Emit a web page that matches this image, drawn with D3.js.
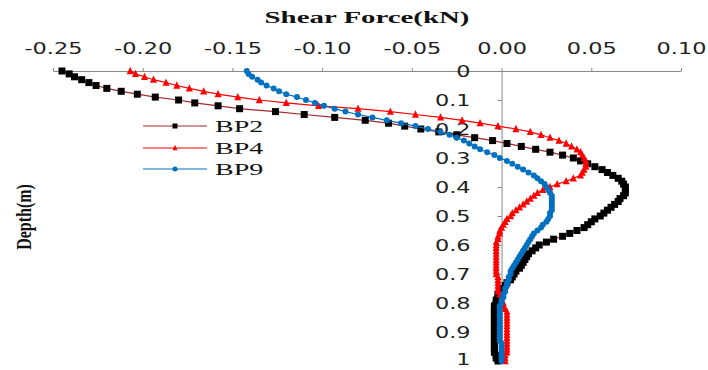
<!DOCTYPE html>
<html>
<head>
<meta charset="utf-8">
<script src="https://cdn.jsdelivr.net/npm/d3@7"></script>
<style>
  html, body { margin: 0; padding: 0; background: #fff; }
  svg { display: block; }
</style>
</head>
<body>
<svg id="chart" width="708" height="370"></svg>
<script>
// ---- DATA ----
const depth = [0,0.01,0.02,0.03,0.04,0.05,0.06,0.07,0.08,0.09,
  0.10,0.11,0.12,0.13,0.14,0.15,0.16,0.17,0.18,0.19,
  0.20,0.21,0.22,0.23,0.24,0.25,0.26,0.27,0.28,0.29,
  0.30,0.31,0.32,0.33,0.34,0.35,0.36,0.37,0.38,0.39,
  0.40,0.41,0.42,0.43,0.44,0.45,0.46,0.47,0.48,0.49,
  0.50,0.51,0.52,0.53,0.54,0.55,0.56,0.57,0.58,0.59,
  0.60,0.61,0.62,0.63,0.64,0.65,0.66,0.67,0.68,0.69,
  0.70,0.71,0.72,0.73,0.74,0.75,0.76,0.77,0.78,0.79,
  0.80,0.81,0.82,0.83,0.84,0.85,0.86,0.87,0.88,0.89,
  0.90,0.91,0.92,0.93,0.94,0.95,0.96,0.97,0.98,0.99,1.00];

const bp2 = [-0.245,-0.241,-0.238,-0.234,-0.230,-0.226,-0.220,-0.212,-0.203,-0.193,
  -0.180,-0.171,-0.158,-0.146,-0.126,-0.110,-0.093,-0.076,-0.063,-0.054,
  -0.045,-0.035,-0.025,-0.015,-0.005,0.003,0.011,0.019,0.027,0.034,
  0.040,0.044,0.048,0.052,0.056,0.059,0.062,0.065,0.067,0.068,
  0.069,0.069,0.069,0.068,0.066,0.065,0.063,0.061,0.059,0.057,
  0.055,0.052,0.050,0.048,0.046,0.042,0.038,0.034,0.029,0.025,
  0.021,0.019,0.017,0.015,0.014,0.013,0.012,0.011,0.010,0.008,
  0.007,0.006,0.005,0.003,0.002,0.001,-0.001,-0.002,-0.002,-0.003,
  -0.003,-0.004,-0.004,-0.004,-0.004,-0.004,-0.004,-0.004,-0.004,-0.004,
  -0.004,-0.004,-0.004,-0.004,-0.004,-0.004,-0.004,-0.004,-0.003,-0.003,-0.002];

const bp4 = [-0.207,-0.204,-0.199,-0.194,-0.187,-0.181,-0.174,-0.166,-0.158,-0.147,
  -0.135,-0.120,-0.102,-0.080,-0.062,-0.048,-0.034,-0.022,-0.012,-0.002,
  0.008,0.016,0.022,0.027,0.032,0.036,0.039,0.042,0.044,0.045,
  0.046,0.047,0.047,0.047,0.046,0.045,0.044,0.040,0.036,0.031,
  0.027,0.023,0.020,0.018,0.016,0.014,0.012,0.010,0.008,0.006,
  0.005,0.003,0.002,0.001,0.000,-0.001,-0.001,-0.002,-0.002,-0.003,
  -0.003,-0.003,-0.003,-0.003,-0.003,-0.003,-0.003,-0.003,-0.003,-0.003,
  -0.003,-0.002,-0.002,-0.002,-0.002,-0.002,-0.002,-0.001,0.000,0.000,
  0.001,0.001,0.002,0.003,0.003,0.003,0.003,0.003,0.003,0.003,
  0.003,0.003,0.003,0.003,0.003,0.003,0.003,0.003,0.002,0.002,0.002];

const bp9 = [-0.142,-0.141,-0.139,-0.136,-0.134,-0.131,-0.127,-0.124,-0.120,-0.114,
  -0.109,-0.104,-0.099,-0.093,-0.087,-0.080,-0.072,-0.064,-0.056,-0.048,
  -0.041,-0.034,-0.029,-0.025,-0.021,-0.018,-0.015,-0.012,-0.008,-0.004,
  -0.001,0.003,0.006,0.009,0.012,0.015,0.018,0.020,0.022,0.024,
  0.025,0.026,0.027,0.028,0.028,0.028,0.028,0.028,0.028,0.027,
  0.027,0.026,0.025,0.023,0.022,0.020,0.018,0.017,0.016,0.015,
  0.014,0.013,0.012,0.011,0.010,0.009,0.008,0.007,0.006,0.005,
  0.005,0.004,0.004,0.003,0.003,0.002,0.002,0.001,0.001,0.000,
  0.000,-0.001,-0.001,-0.001,-0.001,-0.001,-0.001,-0.001,-0.001,-0.001,
  -0.001,-0.001,-0.001,-0.001,0.000,0.000,0.000,0.000,0.000,0.000,0.000];

const seriesNames = ["BP2", "BP4", "BP9"];
const xTicks = [-0.25, -0.20, -0.15, -0.10, -0.05, 0.00, 0.05, 0.10];
const xTickLabels = ["-0.25", "-0.20", "-0.15", "-0.10", "-0.05", "0.00", "0.05", "0.10"];
const yTicks = [0, 0.1, 0.2, 0.3, 0.4, 0.5, 0.6, 0.7, 0.8, 0.9, 1];
const yTickLabels = ["0", "0.1", "0.2", "0.3", "0.4", "0.5", "0.6", "0.7", "0.8", "0.9", "1"];
const xTitle = "Shear Force(kN)";
const yTitle = "Depth(m)";

// ---- CHART ----
const svg = d3.select("#chart");
const x = d3.scaleLinear().domain([-0.25, 0.10]).range([53, 681]);
const y = d3.scaleLinear().domain([0, 1]).range([71, 361]);

const sansStretch = 1.4, serifStretch = 1.75;

// top axis
const gx = svg.append("g").attr("transform", `translate(0,${y(0)})`)
  .call(d3.axisTop(x).tickValues(xTicks).tickSize(3).tickSizeOuter(0)
    .tickFormat((d, i) => xTickLabels[i]));
gx.select(".domain").attr("stroke", "#888");
gx.selectAll(".tick line").attr("stroke", "#888");
gx.selectAll(".tick text")
  .attr("y", 0).attr("dy", 0)
  .attr("transform", `translate(0,-17) scale(${sansStretch},1)`)
  .attr("font-family", "DejaVu Sans, Verdana, sans-serif")
  .attr("font-size", 16).attr("fill", "#222");

// vertical axis at x = 0
const gy = svg.append("g").attr("transform", `translate(${x(0)},0)`)
  .call(d3.axisLeft(y).tickValues(yTicks).tickSize(4).tickSizeOuter(0)
    .tickFormat((d, i) => yTickLabels[i]));
gy.select(".domain").attr("stroke", "#888");
gy.selectAll(".tick line").attr("stroke", "#888");
gy.selectAll(".tick text")
  .attr("x", 0).attr("dy", "0.33em")
  .attr("text-anchor", "end")
  .attr("transform", (d, i) => `translate(-31,${i === yTicks.length - 1 ? -2 : 0}) scale(${sansStretch},1)`)
  .attr("font-family", "DejaVu Sans, Verdana, sans-serif")
  .attr("font-size", 16).attr("fill", "#222");

// titles
svg.append("text")
  .attr("transform", `translate(367,23) scale(${serifStretch},1)`)
  .attr("text-anchor", "middle")
  .attr("font-family", "Liberation Serif, Times New Roman, serif")
  .attr("font-weight", "bold").attr("font-size", 16.5).attr("fill", "#111")
  .text(xTitle);

svg.append("text")
  .attr("transform", `translate(31,217) scale(1.35,1) rotate(-90)`)
  .attr("text-anchor", "middle")
  .attr("font-family", "Liberation Serif, Times New Roman, serif")
  .attr("font-weight", "bold").attr("font-size", 16).attr("fill", "#111")
  .text(yTitle);

// series
const series = [
  { name: seriesNames[0], vals: bp2, line: "#a02a2a", mark: "#000", shape: "square", size: 7 },
  { name: seriesNames[1], vals: bp4, line: "#ff0000", mark: "#ff0000", shape: "triangle", size: 7 },
  { name: seriesNames[2], vals: bp9, line: "#0070c0", mark: "#0070c0", shape: "circle", size: 6 }
];

const lineGen = d3.line().x(d => x(d.v)).y(d => y(d.d));

function drawMarker(g, shape, color, size) {
  if (shape === "square") {
    g.append("rect").attr("x", -size / 2).attr("y", -size / 2)
      .attr("width", size).attr("height", size).attr("fill", color);
  } else if (shape === "triangle") {
    const h = size * 0.9;
    g.append("path").attr("d", `M0,${-h / 2 - 1}L${size / 2},${h / 2}L${-size / 2},${h / 2}Z`).attr("fill", color);
  } else {
    g.append("circle").attr("r", size / 2).attr("fill", color);
  }
}

series.forEach(s => {
  const pts = depth.map((d, i) => ({ d, v: s.vals[i] }));
  const g = svg.append("g");
  g.append("path").datum(pts).attr("d", lineGen)
    .attr("fill", "none").attr("stroke", s.line).attr("stroke-width", 1.2);
  g.selectAll("g.m").data(pts).join("g").attr("class", "m")
    .attr("transform", p => `translate(${x(p.v)},${y(p.d)})`)
    .each(function () { drawMarker(d3.select(this), s.shape, s.mark, s.size); });
});

// legend
const legendY = [126, 148, 169];
series.forEach((s, i) => {
  const g = svg.append("g").attr("transform", `translate(0,${legendY[i]})`);
  g.append("line").attr("x1", 143).attr("x2", 207).attr("y1", 0).attr("y2", 0)
    .attr("stroke", s.line).attr("stroke-width", 1.2);
  const mg = g.append("g").attr("transform", "translate(175,0)");
  drawMarker(mg, s.shape, s.mark, 5);
  g.append("text")
    .attr("transform", `translate(215,6) scale(${serifStretch},1)`)
    .attr("font-family", "Liberation Serif, Times New Roman, serif")
    .attr("font-size", 16).attr("fill", "#111")
    .text(s.name);
});
</script>
</body>
</html>
